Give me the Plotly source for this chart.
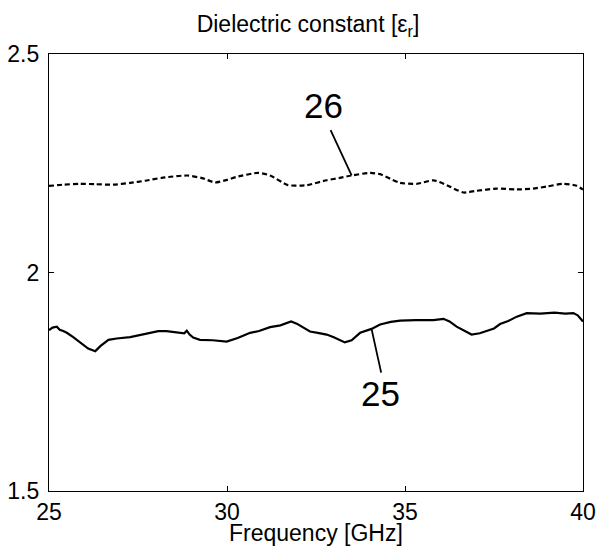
import plotly.graph_objects as go

# Sample 26 (dashed)
freq_26 = [25.0, 25.4, 25.87, 26.3, 26.8, 27.28, 27.7, 28.2, 28.88, 29.3, 29.66, 30.0, 30.28,
           30.87, 31.21, 31.71, 32.05, 32.25, 32.8, 33.2, 33.5, 34.02, 34.3, 34.6, 34.86, 35.33,
           35.8, 36.17, 36.64, 37.01, 37.58, 38.14, 38.6, 39.0, 39.45, 39.8, 40.0]
eps_26 = [2.198, 2.201, 2.203, 2.202, 2.201, 2.205, 2.210, 2.217, 2.222, 2.216, 2.206, 2.212, 2.219,
          2.228, 2.222, 2.200, 2.199, 2.200, 2.211, 2.217, 2.222, 2.228, 2.225, 2.214, 2.205, 2.203,
          2.211, 2.200, 2.183, 2.187, 2.192, 2.190, 2.192, 2.197, 2.203, 2.199, 2.190]

# Sample 25 (solid)
freq_25 = [25.0, 25.1, 25.22, 25.3, 25.4, 25.5, 25.68, 25.9, 26.1, 26.3, 26.45, 26.67, 26.9, 27.28,
           27.6, 28.07, 28.3, 28.68, 28.8, 28.87, 28.95, 29.05, 29.24, 29.6, 29.99, 30.3, 30.65,
           30.9, 31.21, 31.5, 31.68, 31.8, 31.96, 32.1, 32.33, 32.55, 32.8, 33.0, 33.31, 33.5, 33.74,
           34.06, 34.3, 34.6, 34.86, 35.3, 35.8, 36.08, 36.25, 36.45, 36.65, 36.87, 37.1, 37.29,
           37.5, 37.67, 37.9, 38.14, 38.42, 38.8, 39.2, 39.5, 39.73, 39.85, 40.0]
eps_25 = [1.868, 1.874, 1.876, 1.869, 1.866, 1.862, 1.852, 1.838, 1.826, 1.820, 1.832, 1.846, 1.849, 1.852,
          1.857, 1.866, 1.866, 1.863, 1.861, 1.867, 1.858, 1.851, 1.846, 1.845, 1.842, 1.850, 1.862,
          1.866, 1.875, 1.879, 1.884, 1.888, 1.883, 1.876, 1.865, 1.862, 1.858, 1.852, 1.840, 1.845, 1.862,
          1.871, 1.881, 1.887, 1.890, 1.891, 1.891, 1.894, 1.888, 1.876, 1.868, 1.858, 1.861, 1.866,
          1.872, 1.882, 1.889, 1.899, 1.907, 1.906, 1.908, 1.906, 1.907, 1.902, 1.888]

x_ticks = [25, 30, 35, 40]
y_ticks = [1.5, 2.0, 2.5]
y_tick_labels = ["1.5", "2", "2.5"]

label_text = ["26", "25"]
label_pos = [(32.70, 2.383), (34.30, 1.722)]
pointer_from = [(32.91, 2.326), (34.33, 1.771)]
pointer_to = [(33.50, 2.222), (34.06, 1.871)]

FONT = "Liberation Sans, Arial, Helvetica, sans-serif"

fig = go.Figure()
fig.add_trace(go.Scatter(x=freq_26, y=eps_26, mode="lines",
                         line=dict(color="black", width=2.2, dash="5px,3px", shape="spline", smoothing=0.6),
                         showlegend=False))
fig.add_trace(go.Scatter(x=freq_25, y=eps_25, mode="lines",
                         line=dict(color="black", width=2.2),
                         showlegend=False))

for t, (lx, ly), (fx, fy), (tx, ty) in zip(label_text, label_pos, pointer_from, pointer_to):
    fig.add_annotation(x=lx, y=ly, text=t, showarrow=False, xref="x", yref="y",
                       font=dict(family=FONT, size=35, color="black"))
    fig.add_shape(type="line", x0=fx, y0=fy, x1=tx, y1=ty, xref="x", yref="y",
                  line=dict(color="black", width=1.8))

# x-axis title placed as an annotation just under the tick labels
fig.add_annotation(x=0.5, y=-0.128, xref="paper", yref="paper", text="Frequency [GHz]",
                   showarrow=False, xanchor="center", yanchor="bottom", borderpad=0,
                   font=dict(family=FONT, size=23, color="black"))

fig.update_layout(
    width=598, height=549,
    margin=dict(l=49, r=15, t=54, b=58),
    paper_bgcolor="white", plot_bgcolor="white",
    font=dict(family=FONT, size=23, color="black"),
    title=dict(text="Dielectric constant [ε<sub>r</sub>]", x=0.485, xref="paper", xanchor="center",
               y=0.956, yref="container", yanchor="middle", font=dict(size=23)),
)
fig.update_xaxes(range=[25, 40], tickvals=x_ticks, ticks="inside", ticklen=5, tickcolor="black",
                 showline=True, linecolor="black", linewidth=1.2, mirror="ticks", showgrid=False,
                 zeroline=False, tickfont=dict(size=23), ticklabelstandoff=0, automargin=False)
fig.update_yaxes(range=[1.5, 2.5], tickvals=y_ticks, ticktext=y_tick_labels, ticks="inside", ticklen=5,
                 tickcolor="black", showline=True, linecolor="black", linewidth=1.2, mirror="ticks",
                 showgrid=False, zeroline=False, tickfont=dict(size=23), ticklabelstandoff=4,
                 automargin=False)

fig.write_html("out.html", config={"displayModeBar": False},
               post_script="document.body.style.margin='0';document.body.style.overflow='hidden';")
